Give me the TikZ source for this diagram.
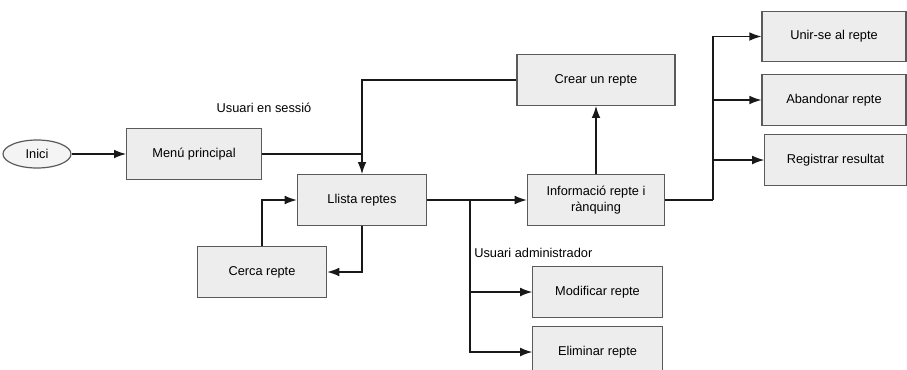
\documentclass[tikz,border=0pt]{standalone}
\usepackage{fontspec}
\setmainfont{Liberation Sans}
\usetikzlibrary{arrows.meta,shapes.geometric}
\definecolor{boxfill}{HTML}{EDEDED}
\definecolor{boxline}{HTML}{5A5A5A}
\tikzset{
  box/.style={draw=boxline, fill=boxfill, line width=0.9pt, minimum width=#1, minimum height=38pt, inner sep=2pt, align=center},
  box/.default=97pt,
  startnode/.style={ellipse, draw=boxline, fill=boxfill!60!white, line width=0.9pt, minimum width=51pt, minimum height=21pt, inner sep=1pt},
  flow/.style={draw=black!90, line width=0.9pt},
  arrow/.style={flow, -{Latex[length=9pt,width=6.5pt]}},
  note/.style={inner sep=0pt},
}
\begin{document}
\begin{tikzpicture}[x=0.75pt, y=-0.75pt, font=\fontsize{9.6}{11.5}\selectfont]
    \useasboundingbox (0,0) rectangle (907,369);
    \clip (0,0) rectangle (907,369);

    \node[startnode] (inici) at (37,154) {Inici};
    \node[box=101pt] (menu) at (194,154) {Menú principal};
    \node[box] (llista) at (362,200) {Llista reptes};
    \node[box] (cerca) at (262,272) {Cerca repte};
    \node[box=118.5pt] (crear) at (596,80) {Crear un repte};
    \node[box=103pt] (info) at (596,200) {Informació repte i\\rànquing};
    \node[box] (modif) at (597.5,292) {Modificar repte};
    \node[box] (elim) at (597.5,352) {Eliminar repte};
    \node[box=108pt] (unir) at (834,36.5) {Unir-se al repte};
    \node[box=108pt] (aband) at (834,100) {Abandonar repte};
    \node[box=106pt] (regis) at (835.5,160) {Registrar resultat};

    \node[note] (sessio) at (264,108) {Usuari en sessió};
    \node[note, anchor=west] (admin) at (474,253) {Usuari administrador};

    \coordinate (lfork) at (470,200);
    \coordinate (rfork) at (713,200);

    \draw[arrow] (inici) -- (menu);
    \draw[flow] (menu.east) -- (menu.east -| llista.north);
    \draw[arrow] (crear.west) -| (llista.north);
    \draw[arrow] (llista.south) |- (cerca.east);
    \draw[arrow] (cerca.north) |- (llista.west);
    \draw[arrow] (llista) -- (info);
    \draw[arrow] (lfork) |- (modif.west);
    \draw[arrow] (lfork) |- (elim.west);
    \draw[arrow] (info) -- (crear);
    \draw[flow] (info.east) -- (rfork);
    \draw[arrow] (rfork) |- (unir.west);
    \draw[arrow] (rfork) |- (aband.west);
    \draw[arrow] (rfork) |- (regis.west);
\end{tikzpicture}
\end{document}
